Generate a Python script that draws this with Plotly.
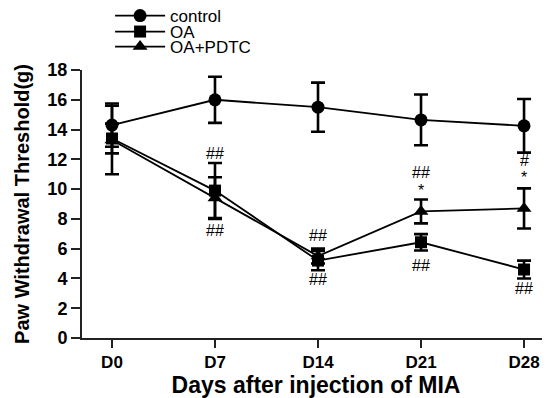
import plotly.graph_objects as go

days = ["D0", "D7", "D14", "D21", "D28"]
control = [14.3, 16.0, 15.5, 14.65, 14.25]
control_err = [1.45, 1.55, 1.65, 1.7, 1.8]
oa = [13.4, 9.9, 5.2, 6.43, 4.6]
oa_err = [1.0, 1.85, 0.65, 0.55, 0.6]
pdtc = [13.3, 9.4, 5.5, 8.5, 8.7]
pdtc_err = [2.3, 1.4, 0.5, 0.8, 1.35]
y_ticks = [0, 2, 4, 6, 8, 10, 12, 14, 16, 18]

# significance labels: (day index, y value, text)
sig_labels = [
    (1, 12.4, "##"), (1, 7.2, "##"),
    (2, 6.9, "##"), (2, 3.9, "##"),
    (3, 11.1, "##"), (3, 9.9, "*"), (3, 4.9, "##"),
    (4, 11.95, "#"), (4, 10.8, "*"), (4, 3.3, "##"),
]

xi = list(range(len(days)))
fig = go.Figure()

def add(name, y, err, symbol, size, legend):
    fig.add_trace(go.Scatter(
        x=xi, y=y, name=name, mode="lines+markers", legend=legend,
        line=dict(color="black", width=1.8),
        marker=dict(symbol=symbol, size=size, color="black"),
        error_y=dict(type="data", array=err, visible=True, color="black",
                     thickness=2.6, width=7),
    ))

add("control", control, control_err, "circle", 13, "legend")
add("OA", oa, oa_err, "square", 12, "legend2")
add("OA+PDTC", pdtc, pdtc_err, "triangle-up", 13, "legend3")

for d, yv, t in sig_labels:
    fig.add_annotation(x=d, y=yv, text=t, showarrow=False,
                       font=dict(family="Liberation Sans, Arial, sans-serif", size=16, color="black"))

leg_common = dict(x=0.06, xanchor="left", yanchor="middle",
                  font=dict(size=17, color="black"),
                  bgcolor="rgba(0,0,0,0)", itemwidth=50)
# page has an 8px body margin, so the figure is 8px smaller than the window
fig.update_layout(
    width=542, height=390,
    margin=dict(l=74, r=0, t=62, b=60, autoexpand=False),
    paper_bgcolor="white", plot_bgcolor="white",
    font=dict(family="Liberation Sans, Arial, sans-serif", color="black"),
    showlegend=True,
    legend=dict(y=1.2015, **leg_common),
    legend2=dict(y=1.1418, **leg_common),
    legend3=dict(y=1.0858, **leg_common),
)
fig.update_xaxes(
    range=[-0.291, 4.252], tickmode="array", tickvals=xi,
    ticktext=["<b>%s</b>" % d for d in days],
    showline=True, linecolor="#222", linewidth=2, ticks="outside",
    ticklen=8, tickwidth=2, tickcolor="#222", showgrid=False, zeroline=False,
    tickfont=dict(size=17),
    title=dict(text="<b>Days after injection of MIA</b>", font=dict(size=23), standoff=5),
)
fig.update_yaxes(
    range=[0, 18], tickvals=y_ticks,
    ticktext=["<b>%d</b>" % v for v in y_ticks],
    showline=True, linecolor="#222", linewidth=2, ticks="outside",
    ticklen=9, tickwidth=2, tickcolor="#222", showgrid=False, zeroline=False,
    tickfont=dict(size=18),
    title=dict(text="<b>Paw Withdrawal Threshold(g)</b>", font=dict(size=20), standoff=12),
)

fig.write_html("out.html")
